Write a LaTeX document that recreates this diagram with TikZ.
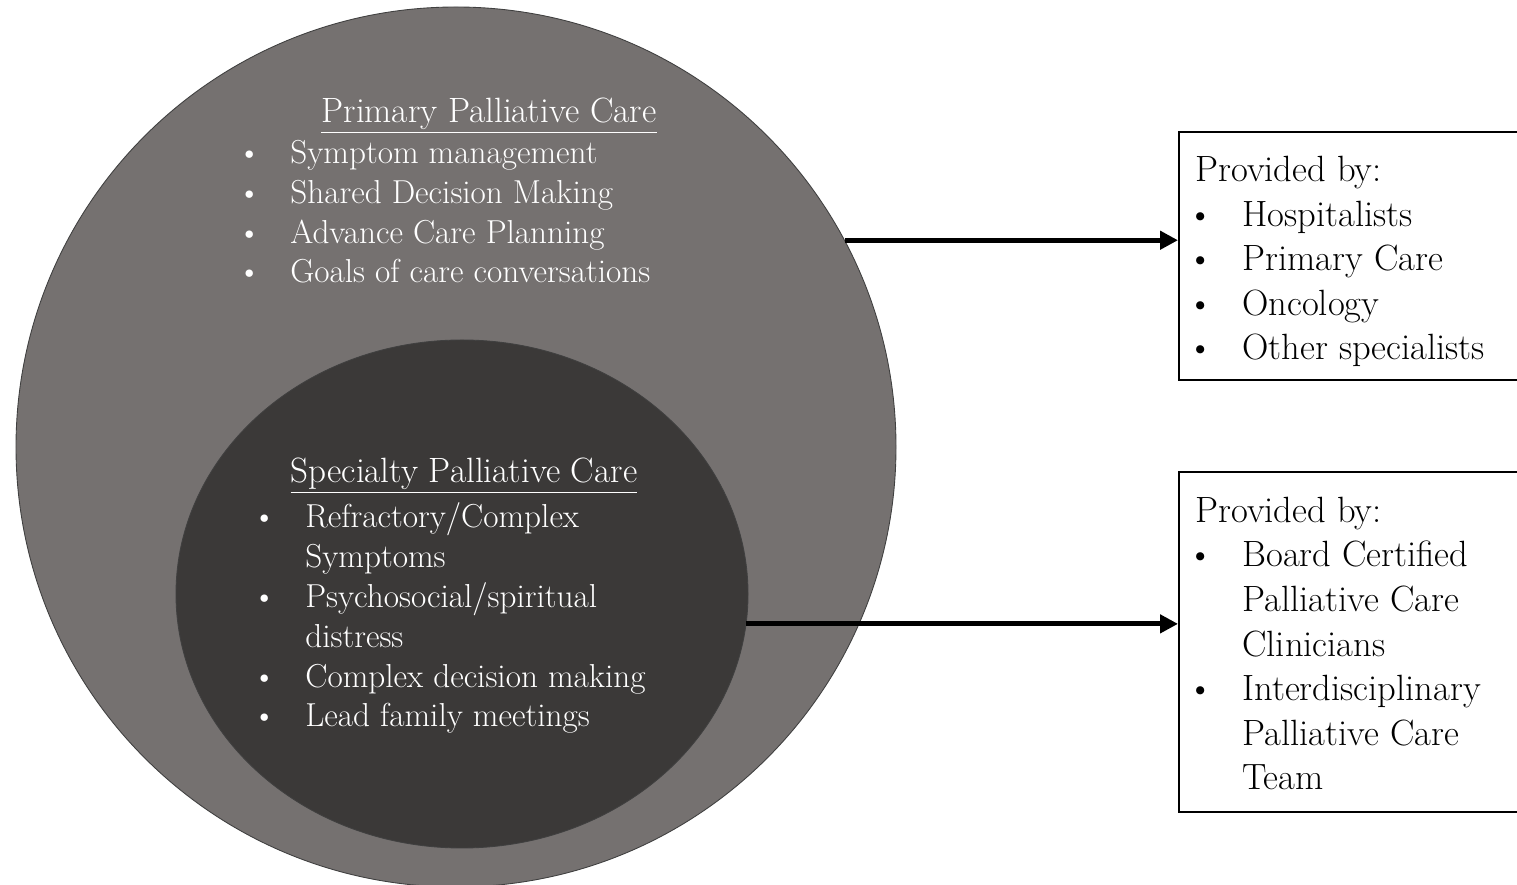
\documentclass[tikz,border=0pt]{standalone}
\usetikzlibrary{arrows.meta,shapes.geometric}

\definecolor{outergray}{RGB}{117,113,112}
\definecolor{innergray}{RGB}{59,57,56}
\newcommand{\bl}[2]{\makebox[#1][l]{\hspace*{#2}\textbullet}}

\tikzset{
  ring/.style={draw=black!75, line width=0.5pt, inner sep=0pt},
  provbox/.style={draw, line width=1.1pt, minimum width=7cm, anchor=north west, inner sep=0pt},
  arr/.style={line width=2.8pt, -{Triangle[length=0.36cm,width=0.36cm]}},
  circtxt/.style={text=white, align=left, inner sep=0pt, font=\fontsize{18.9}{22.7}\selectfont},
  titletxt/.style={text=white, inner sep=0pt, font=\fontsize{20}{24}\selectfont},
  boxtxt/.style={align=left, inner sep=0pt, font=\fontsize{20.8}{25.4}\selectfont},
}

\begin{document}
\begin{tikzpicture}
\useasboundingbox (0,0) rectangle (30.34,17.7);

% the two circles
\node[ring, circle, fill=outergray, minimum size=17.6cm] (prim) at (9.12,8.76) {};
\node[ring, ellipse, fill=innergray, minimum width=11.44cm, minimum height=10.16cm] (spec) at (9.24,5.82) {};

% base = last line
\node[titletxt, anchor=base] (primtitle) at (9.78,15.24) {\underline{Primary Palliative Care}};
\node[circtxt, anchor=base west] (primlist) at (4.98,12.04) {%
\bl{0.82cm}{-0.24cm}Symptom management\\
\bl{0.82cm}{-0.24cm}Shared Decision Making\\
\bl{0.82cm}{-0.24cm}Advance Care Planning\\
\bl{0.82cm}{-0.24cm}Goals of care conversations};

\node[titletxt, anchor=base] (spectitle) at (9.28,8.04) {\underline{Specialty Palliative Care}};
\node[circtxt, anchor=base west] (speclist) at (5.28,3.16) {%
\bl{0.82cm}{-0.24cm}Refractory/Complex\\
\hspace*{0.82cm}Symptoms\\
\bl{0.82cm}{-0.24cm}Psychosocial/spiritual\\
\hspace*{0.82cm}distress\\
\bl{0.82cm}{-0.24cm}Complex decision making\\
\bl{0.82cm}{-0.24cm}Lead family meetings};

% the two boxes
\node[provbox, minimum height=4.96cm] (hosp) at (23.56,15.08) {};
\node[boxtxt, anchor=base west] (hosptxt) at (23.9,10.5) {%
Provided by:\\
\bl{0.94cm}{-0.16cm}Hospitalists\\
\bl{0.94cm}{-0.16cm}Primary Care\\
\bl{0.94cm}{-0.16cm}Oncology\\
\bl{0.94cm}{-0.16cm}Other specialists};

\node[provbox, minimum height=6.8cm] (team) at (23.56,8.28) {};
\node[boxtxt, anchor=base west] (teamtxt) at (23.9,1.9) {%
Provided by:\\
\bl{0.94cm}{-0.16cm}Board Certified\\
\hspace*{0.94cm}Palliative Care\\
\hspace*{0.94cm}Clinicians\\
\bl{0.94cm}{-0.16cm}Interdisciplinary\\
\hspace*{0.94cm}Palliative Care\\
\hspace*{0.94cm}Team};

\draw[arr] (prim.28.9) -- (prim.28.9 -| hosp.west);
\draw[arr] (spec.-6) -- (spec.-6 -| team.west);
\end{tikzpicture}
\end{document}
